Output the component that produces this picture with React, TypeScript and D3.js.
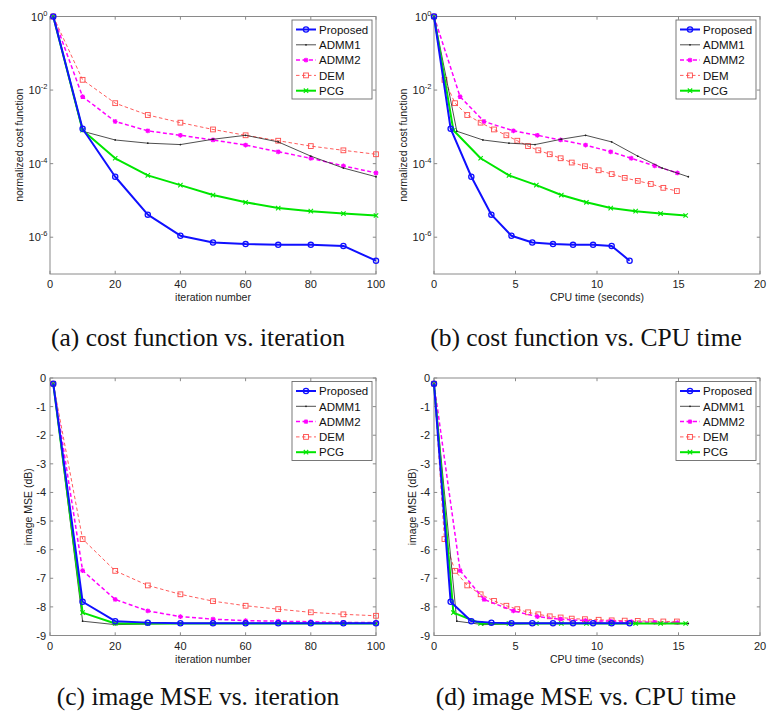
import React from "react";
import * as d3 from "d3";

// ---------- data ----------
const iterations = [1, 10, 20, 30, 40, 50, 60, 70, 80, 90, 100];

// cost function vs iteration
const costProposed = [1, 8.9e-4, 4.4e-5, 4.1e-6, 1.1e-6, 7.2e-7, 6.5e-7, 6.2e-7, 6.2e-7, 5.8e-7, 2.3e-7];
const costADMM1 = [1, 7.6e-4, 4.4e-4, 3.6e-4, 3.3e-4, 4.6e-4, 5.9e-4, 3.9e-4, 1.6e-4, 7.6e-5, 4.4e-5];
const costADMM2 = [1, 6.6e-3, 1.4e-3, 7.8e-4, 5.9e-4, 4.4e-4, 3.2e-4, 2.1e-4, 1.4e-4, 8.7e-5, 5.6e-5];
const costDEM = [1, 1.9e-2, 4.4e-3, 2.1e-3, 1.3e-3, 8.5e-4, 5.9e-4, 4.2e-4, 3.0e-4, 2.3e-4, 1.8e-4];
const costPCG = [1, 8.1e-4, 1.4e-4, 4.8e-5, 2.6e-5, 1.4e-5, 8.9e-6, 6.2e-6, 5.1e-6, 4.4e-6, 3.9e-6];

// CPU time (seconds) at each recorded point
const timeProposed = [0, 1.02, 2.29, 3.52, 4.75, 6.03, 7.3, 8.53, 9.76, 10.9, 12.0];
const timeADMM1 = [0, 1.4, 3.0, 4.6, 6.2, 7.8, 9.3, 10.9, 12.5, 14.0, 15.6];
const timeADMM2 = [0, 1.6, 3.07, 4.87, 6.34, 7.77, 9.3, 10.84, 12.1, 13.54, 14.93];
const timePCG = [0, 1.19, 2.86, 4.6, 6.28, 7.81, 9.35, 10.84, 12.37, 13.9, 15.44];
const timeDEM = [0, 0.64, 1.29, 2.04, 2.86, 3.68, 4.44, 5.11, 5.77, 6.4, 7.1, 7.77, 8.45, 9.26, 10.1, 10.9, 11.7, 12.5, 13.3, 14.07, 14.9];
const costDEMTime = [1, 1.9e-2, 4.4e-3, 2.1e-3, 1.3e-3, 8.5e-4, 5.9e-4, 4.2e-4, 3.0e-4, 2.3e-4, 1.8e-4, 1.4e-4, 1.07e-4, 8.5e-5, 6.6e-5, 5.2e-5, 4.1e-5, 3.4e-5, 2.8e-5, 2.2e-5, 1.8e-5];

// image MSE (dB)
const mseProposed = [-0.2, -7.82, -8.5, -8.55, -8.57, -8.57, -8.57, -8.57, -8.57, -8.57, -8.57];
const mseADMM1 = [-0.2, -8.5, -8.62, -8.6, -8.58, -8.58, -8.58, -8.58, -8.58, -8.58, -8.58];
const mseADMM2 = [-0.2, -6.73, -7.74, -8.14, -8.34, -8.43, -8.48, -8.5, -8.52, -8.54, -8.55];
const mseDEM = [-0.2, -5.63, -6.74, -7.25, -7.56, -7.8, -7.96, -8.08, -8.19, -8.26, -8.31];
const msePCG = [-0.2, -8.2, -8.58, -8.58, -8.58, -8.58, -8.58, -8.58, -8.58, -8.58, -8.58];
const mseDEMTime = [-0.2, -5.63, -6.74, -7.25, -7.56, -7.79, -7.96, -8.08, -8.19, -8.26, -8.33, -8.37, -8.41, -8.43, -8.45, -8.47, -8.48, -8.49, -8.5, -8.51, -8.51];

const methods = ["Proposed", "ADMM1", "ADMM2", "DEM", "PCG"];
const iterTicks = [0, 20, 40, 60, 80, 100];
const timeTicks = [0, 5, 10, 15, 20];
const logTicks = [1, 1e-2, 1e-4, 1e-6];
const logTickExp = ["0", "-2", "-4", "-6"];
const mseTicks = [0, -1, -2, -3, -4, -5, -6, -7, -8, -9];
const captions = [
  "(a) cost function vs. iteration",
  "(b) cost function vs. CPU time",
  "(c) image MSE vs. iteration",
  "(d) image MSE vs. CPU time",
];

// ---------- styles ----------
type Style = { color: string; width: number; dash?: string; marker: string; ms: number };
const styles: Record<string, Style> = {
  Proposed: { color: "#1010ff", width: 2, marker: "circle", ms: 2.6 },
  ADMM1: { color: "#222222", width: 0.8, marker: "dot", ms: 0.9 },
  ADMM2: { color: "#ff00ff", width: 1.5, dash: "4,2.5", marker: "star", ms: 2.4 },
  DEM: { color: "#ff4a4a", width: 0.9, dash: "3.5,2.5", marker: "square", ms: 2.4 },
  PCG: { color: "#00e600", width: 2, marker: "x", ms: 2.2 },
};

const SANS = "'Liberation Sans', Arial, Helvetica, sans-serif";
const SERIF = "'Liberation Serif', 'Times New Roman', serif";

function Marker({ x, y, s }: { x: number; y: number; s: Style }) {
  const r = s.ms;
  if (s.marker === "circle")
    return <circle cx={x} cy={y} r={r} fill="none" stroke={s.color} strokeWidth={1.3} />;
  if (s.marker === "dot") return <circle cx={x} cy={y} r={r} fill={s.color} />;
  if (s.marker === "square")
    return <rect x={x - r} y={y - r} width={2 * r} height={2 * r} fill="none" stroke={s.color} strokeWidth={0.9} />;
  if (s.marker === "x")
    return (
      <path d={`M${x - r},${y - r}L${x + r},${y + r}M${x - r},${y + r}L${x + r},${y - r}`} stroke={s.color} strokeWidth={1.1} />
    );
  // star
  return (
    <path
      d={`M${x - r},${y}L${x + r},${y}M${x},${y - r}L${x},${y + r}M${x - r * 0.75},${y - r * 0.75}L${x + r * 0.75},${y + r * 0.75}M${x - r * 0.75},${y + r * 0.75}L${x + r * 0.75},${y - r * 0.75}`}
      stroke={s.color}
      strokeWidth={1.2}
    />
  );
}

type Series = { name: string; xs: number[]; ys: number[] };
type PanelProps = {
  id: string;
  left: number;
  top: number;
  width: number;
  height: number;
  xMax: number;
  xTicks: number[];
  log: boolean;
  series: Series[];
  xLabel: string;
  yLabel: string;
  yLabelX: number;
};

function Panel(p: PanelProps) {
  const x = d3.scaleLinear().domain([0, p.xMax]).range([p.left, p.left + p.width]);
  const y = p.log
    ? d3.scaleLog().domain([1e-7, 1]).range([p.top + p.height, p.top])
    : d3.scaleLinear().domain([-9, 0]).range([p.top + p.height, p.top]);
  const right = p.left + p.width;
  const bottom = p.top + p.height;
  const tl = 3.2;
  const axisColor = "#8a8a8a";
  const yTickVals: number[] = p.log ? logTicks : mseTicks;
  const drawOrder = ["DEM", "ADMM2", "ADMM1", "PCG", "Proposed"];
  const ordered = drawOrder.map((n) => p.series.find((s) => s.name === n)!).filter(Boolean);
  // legend
  const lgX = right - 84;
  const lgY = p.top + 3.5;
  const lgW = 80;
  const lgH = 79;
  return (
    <g>
      <defs>
        <clipPath id={`clip-${p.id}`}>
          <rect x={p.left - 4} y={p.top - 4} width={p.width + 8} height={p.height + 8} />
        </clipPath>
      </defs>
      <rect x={p.left} y={p.top} width={p.width} height={p.height} fill="#fff" stroke={axisColor} strokeWidth={1} />
      {p.xTicks.map((t) => (
        <g key={`xt${t}`}>
          <line x1={x(t)} x2={x(t)} y1={bottom} y2={bottom - tl} stroke={axisColor} />
          <line x1={x(t)} x2={x(t)} y1={p.top} y2={p.top + tl} stroke={axisColor} />
          <text x={x(t)} y={bottom + 14} textAnchor="middle" fontSize={11} fontFamily={SANS} fill="#222">
            {t}
          </text>
        </g>
      ))}
      {yTickVals.map((t, i) => (
        <g key={`yt${t}`}>
          <line x1={p.left} x2={p.left + tl} y1={y(t)} y2={y(t)} stroke={axisColor} />
          <line x1={right} x2={right - tl} y1={y(t)} y2={y(t)} stroke={axisColor} />
          {p.log ? (
            <text x={p.left - 2.5} y={y(t) + 4.2} textAnchor="end" fontSize={11} fontFamily={SANS} fill="#222">
              10
              <tspan fontSize={7.5} dy={-5}>
                {logTickExp[i]}
              </tspan>
            </text>
          ) : (
            <text x={p.left - 4} y={y(t) + 4} textAnchor="end" fontSize={11} fontFamily={SANS} fill="#222">
              {t === 0 ? "0" : `-${Math.abs(t)}`}
            </text>
          )}
        </g>
      ))}
      <text x={(p.left + right) / 2} y={bottom + 27} textAnchor="middle" fontSize={10.5} fontFamily={SANS} fill="#222">
        {p.xLabel}
      </text>
      <text
        transform={`translate(${p.yLabelX},${(p.top + bottom) / 2}) rotate(-90)`}
        textAnchor="middle"
        fontSize={10.5}
        fontFamily={SANS}
        fill="#222"
      >
        {p.yLabel}
      </text>
      <g clipPath={`url(#clip-${p.id})`}>
        {ordered.map((s) => {
          const st = styles[s.name];
          const pts = s.xs.map((xv, i) => [x(xv), y(s.ys[i])] as [number, number]);
          const line = d3.line();
          return (
            <g key={s.name}>
              <path d={line(pts) || ""} fill="none" stroke={st.color} strokeWidth={st.width} strokeDasharray={st.dash} strokeLinejoin="round" />
              {pts.map((pt, i) => (
                <Marker key={i} x={pt[0]} y={pt[1]} s={st} />
              ))}
            </g>
          );
        })}
      </g>
      <rect x={lgX} y={lgY} width={lgW} height={lgH} fill="#fff" stroke="#6a6a6a" strokeWidth={0.9} />
      {methods.map((m, i) => {
        const st = styles[m];
        const yy = lgY + 9.5 + i * 15.3;
        const x1 = lgX + 4;
        const x2 = lgX + 24;
        return (
          <g key={m}>
            <line x1={x1} x2={x2} y1={yy} y2={yy} stroke={st.color} strokeWidth={st.width} strokeDasharray={st.dash} />
            <Marker x={(x1 + x2) / 2} y={yy} s={st} />
            <text x={lgX + 27} y={yy + 4.2} fontSize={11.5} fontFamily={SANS} fill="#111">
              {m}
            </text>
          </g>
        );
      })}
    </g>
  );
}

export default function App() {
  const W = 768;
  const H = 720;
  const iterSeries = (ys: number[][]): Series[] =>
    methods.map((m, i) => ({ name: m, xs: iterations, ys: ys[i] }));
  const costIter = iterSeries([costProposed, costADMM1, costADMM2, costDEM, costPCG]);
  const mseIter = iterSeries([mseProposed, mseADMM1, mseADMM2, mseDEM, msePCG]);
  const costTime: Series[] = [
    { name: "Proposed", xs: timeProposed, ys: costProposed },
    { name: "ADMM1", xs: timeADMM1, ys: costADMM1 },
    { name: "ADMM2", xs: timeADMM2, ys: costADMM2 },
    { name: "DEM", xs: timeDEM, ys: costDEMTime },
    { name: "PCG", xs: timePCG, ys: costPCG },
  ];
  const mseTime: Series[] = [
    { name: "Proposed", xs: timeProposed, ys: mseProposed },
    { name: "ADMM1", xs: timeADMM1, ys: mseADMM1 },
    { name: "ADMM2", xs: timeADMM2, ys: mseADMM2 },
    { name: "DEM", xs: timeDEM, ys: mseDEMTime },
    { name: "PCG", xs: timePCG, ys: msePCG },
  ];
  const pw = 326;
  const ph = 257.5;
  return (
    <svg
      width={W}
      height={H}
      viewBox={`0 0 ${W} ${H}`}
      style={{ position: "absolute", left: 0, top: 0, background: "#fff", display: "block" }}
    >
      <rect x={0} y={0} width={W} height={H} fill="#fff" />
      <Panel id="a" left={50} top={16.5} width={pw} height={ph} xMax={100} xTicks={iterTicks} log={true}
        series={costIter} xLabel="iteration number" yLabel="normalized cost function" yLabelX={22.5} />
      <Panel id="b" left={434} top={16.5} width={pw} height={ph} xMax={20} xTicks={timeTicks} log={true}
        series={costTime} xLabel="CPU time (seconds)" yLabel="normalized cost function" yLabelX={406.5} />
      <Panel id="c" left={50} top={378} width={pw} height={ph} xMax={100} xTicks={iterTicks} log={false}
        series={mseIter} xLabel="iteration number" yLabel="image MSE (dB)" yLabelX={31.5} />
      <Panel id="d" left={434} top={378} width={pw} height={ph} xMax={20} xTicks={timeTicks} log={false}
        series={mseTime} xLabel="CPU time (seconds)" yLabel="image MSE (dB)" yLabelX={415.5} />
      {captions.map((c, i) => (
        <text key={c} x={i % 2 === 0 ? 198 : 586} y={i < 2 ? 346 : 705} textAnchor="middle"
          fontSize={25.5} fontFamily={SERIF} fill="#111">
          {c}
        </text>
      ))}
    </svg>
  );
}
